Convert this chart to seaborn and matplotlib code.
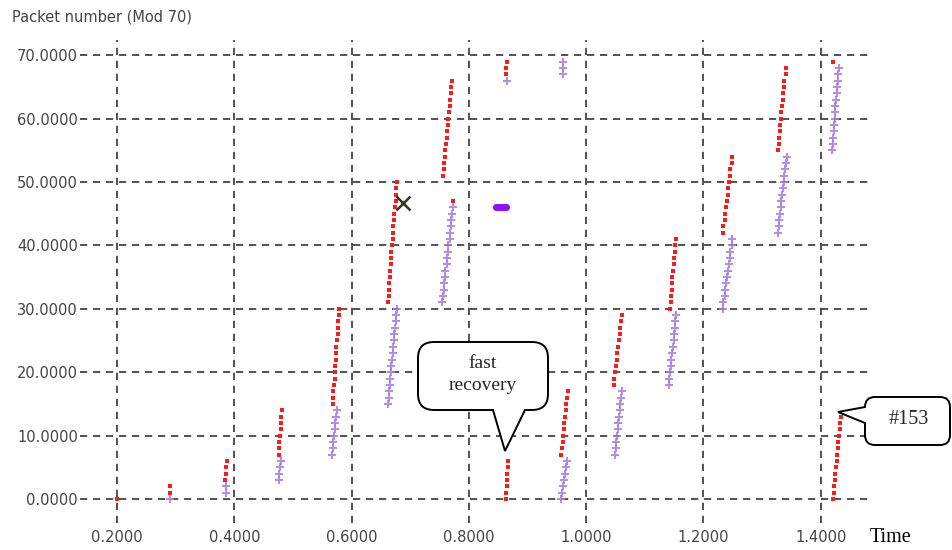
import numpy as np
import pandas as pd
import matplotlib
matplotlib.use("Agg")
import matplotlib.pyplot as plt
import seaborn as sns
from matplotlib.path import Path
from matplotlib.patches import PathPatch
from matplotlib.transforms import Affine2D

# ---------------- data ----------------
# sent packets (red), one list per burst
red_time_bursts = [
    [0.200],
    [0.290, 0.290],
    [0.384, 0.385, 0.386, 0.387],
    [0.476, 0.477, 0.477, 0.478, 0.479, 0.479, 0.480, 0.481],
    [0.568, 0.569, 0.569, 0.570, 0.571, 0.571, 0.572, 0.573, 0.574, 0.574, 0.575, 0.576, 0.576, 0.577, 0.578, 0.579],
    [0.662, 0.663, 0.663, 0.664, 0.665, 0.666, 0.667, 0.667, 0.668, 0.669, 0.670, 0.671, 0.671, 0.672, 0.673, 0.674, 0.675, 0.675, 0.676, 0.677],
    [0.756, 0.757, 0.758, 0.759, 0.760, 0.761, 0.762, 0.763, 0.764, 0.765, 0.766, 0.767, 0.768, 0.769, 0.770, 0.771],
    [0.773],
    [0.864, 0.864, 0.865],
    [0.864, 0.864, 0.865, 0.865, 0.865, 0.866, 0.866],
    [0.957, 0.958, 0.960, 0.961, 0.962, 0.963, 0.964, 0.965, 0.966, 0.968, 0.969],
    [1.047, 1.048, 1.049, 1.051, 1.052, 1.053, 1.054, 1.056, 1.057, 1.058, 1.060, 1.061],
    [1.143, 1.144, 1.145, 1.146, 1.146, 1.147, 1.148, 1.149, 1.150, 1.151, 1.152, 1.153],
    [1.233, 1.234, 1.236, 1.237, 1.238, 1.240, 1.241, 1.242, 1.244, 1.245, 1.246, 1.248, 1.249],
    [1.327, 1.328, 1.329, 1.330, 1.331, 1.332, 1.333, 1.334, 1.335, 1.336, 1.337, 1.338, 1.340, 1.341],
    [1.421],
    [1.421, 1.422, 1.423, 1.424, 1.425, 1.426, 1.427, 1.428, 1.429, 1.430, 1.431, 1.432, 1.433, 1.434],
]
red_pkt_bursts = [
    [0],
    [1, 2],
    [3, 4, 5, 6],
    [7, 8, 9, 10, 11, 12, 13, 14],
    [15, 16, 17, 18, 19, 20, 21, 22, 23, 24, 25, 26, 27, 28, 29, 30],
    [31, 32, 33, 34, 35, 36, 37, 38, 39, 40, 41, 42, 43, 44, 45, 46, 47, 48, 49, 50],
    [51, 52, 53, 54, 55, 56, 57, 58, 59, 60, 61, 62, 63, 64, 65, 66],
    [47],
    [67, 68, 69],
    [0, 1, 2, 3, 4, 5, 6],
    [7, 8, 9, 10, 11, 12, 13, 14, 15, 16, 17],
    [18, 19, 20, 21, 22, 23, 24, 25, 26, 27, 28, 29],
    [30, 31, 32, 33, 34, 35, 36, 37, 38, 39, 40, 41],
    [42, 43, 44, 45, 46, 47, 48, 49, 50, 51, 52, 53, 54],
    [55, 56, 57, 58, 59, 60, 61, 62, 63, 64, 65, 66, 67, 68],
    [69],
    [0, 1, 2, 3, 4, 5, 6, 7, 8, 9, 10, 11, 12, 13],
]

# acknowledgements (purple), one list per burst
ack_time_bursts = [
    [0.290],
    [0.385, 0.386],
    [0.476, 0.477, 0.478, 0.480],
    [0.567, 0.568, 0.569, 0.570, 0.571, 0.572, 0.574, 0.575],
    [0.662, 0.663, 0.664, 0.665, 0.666, 0.667, 0.668, 0.669, 0.670, 0.671, 0.672, 0.673, 0.674, 0.675, 0.676, 0.677],
    [0.754, 0.755, 0.757, 0.758, 0.759, 0.760, 0.762, 0.763, 0.764, 0.765, 0.767, 0.768, 0.769, 0.770, 0.772, 0.773],
    [0.865],
    [0.960, 0.960, 0.961],
    [0.957, 0.959, 0.960, 0.962, 0.964, 0.965, 0.967],
    [1.049, 1.050, 1.051, 1.053, 1.054, 1.055, 1.056, 1.057, 1.058, 1.060, 1.061],
    [1.141, 1.142, 1.143, 1.144, 1.145, 1.146, 1.148, 1.149, 1.150, 1.151, 1.152, 1.153],
    [1.233, 1.234, 1.236, 1.237, 1.239, 1.240, 1.242, 1.243, 1.245, 1.246, 1.248, 1.249],
    [1.327, 1.328, 1.329, 1.331, 1.332, 1.333, 1.334, 1.336, 1.337, 1.338, 1.339, 1.341, 1.342],
    [1.419, 1.420, 1.421, 1.422, 1.423, 1.424, 1.425, 1.425, 1.426, 1.427, 1.428, 1.429, 1.430, 1.431],
]
ack_pkt_bursts = [
    [0],
    [1, 2],
    [3, 4, 5, 6],
    [7, 8, 9, 10, 11, 12, 13, 14],
    [15, 16, 17, 18, 19, 20, 21, 22, 23, 24, 25, 26, 27, 28, 29, 30],
    [31, 32, 33, 34, 35, 36, 37, 38, 39, 40, 41, 42, 43, 44, 45, 46],
    [66],
    [67, 68, 69],
    [0, 1, 2, 3, 4, 5, 6],
    [7, 8, 9, 10, 11, 12, 13, 14, 15, 16, 17],
    [18, 19, 20, 21, 22, 23, 24, 25, 26, 27, 28, 29],
    [30, 31, 32, 33, 34, 35, 36, 37, 38, 39, 40, 41],
    [42, 43, 44, 45, 46, 47, 48, 49, 50, 51, 52, 53, 54],
    [55, 56, 57, 58, 59, 60, 61, 62, 63, 64, 65, 66, 67, 68],
]

# duplicate acks at 46
dup_time = [0.846, 0.849, 0.851, 0.854, 0.856, 0.859, 0.861, 0.864]
dup_pkt = [46, 46, 46, 46, 46, 46, 46, 46]

# drop marker
drop_time = [0.688]
drop_pkt = [46.7]

x_ticks = [0.2, 0.4, 0.6, 0.8, 1.0, 1.2, 1.4]
y_ticks = [0, 10, 20, 30, 40, 50, 60, 70]

# ---------------- figure ----------------
sns.set_style("white")
plt.rcParams["font.family"] = ["DejaVu Sans"]

W, H = 953, 550
fig = plt.figure(figsize=(W / 100, H / 100), dpi=100)
ax = fig.add_axes([80 / W, 27 / H, 790 / W, 483 / H])

red_df = pd.DataFrame({
    "t": [v for b in red_time_bursts for v in b],
    "p": [v for b in red_pkt_bursts for v in b],
})
ack_df = pd.DataFrame({
    "t": [v for b in ack_time_bursts for v in b],
    "p": [v for b in ack_pkt_bursts for v in b],
})
dup_df = pd.DataFrame({"t": dup_time, "p": dup_pkt})

sns.scatterplot(data=ack_df, x="t", y="p", ax=ax, marker="P", s=26,
                color="#a57ae6", linewidth=0, alpha=0.85, zorder=3)
sns.scatterplot(data=red_df, x="t", y="p", ax=ax, marker="s", s=11,
                color="#ff1a1a", linewidth=0, zorder=4)
sns.scatterplot(data=dup_df, x="t", y="p", ax=ax, marker="o", s=26,
                color="#8a14ff", linewidth=0, zorder=4)
ax.plot(drop_time, drop_pkt, marker="o", ms=3, color="#b8b020", ls="none", zorder=5)
ax.plot(drop_time, drop_pkt, marker="x", ms=10, mew=1.8, color="#333333", ls="none", zorder=6)

ax.set_xlim(0.1369, 1.4839)
ax.set_ylim(-3.79, 72.4)
ax.set_xticks(x_ticks)
ax.set_yticks(y_ticks)
ax.set_xticklabels([f"{v:.4f}" for v in x_ticks])
ax.set_yticklabels([f"{v:.4f}" for v in y_ticks])
ax.tick_params(axis="both", length=0, labelsize=10.5, labelcolor="#444444")
ax.tick_params(axis="y", pad=1.5)
ax.tick_params(axis="x", pad=5)
ax.grid(True, color="#444444", linestyle=(0, (4, 3.2)), linewidth=1.3)
ax.set_axisbelow(True)
for s in ax.spines.values():
    s.set_visible(False)
ax.set_xlabel("")
ax.set_ylabel("")
ax.set_facecolor("white")

fig.text(12 / W, 1 - 17 / H, "Packet number (Mod 70)", ha="left", va="center",
         fontsize=10.5, color="#444444")
fig.text(870 / W, 1 - 538 / H, "Time", ha="left", va="center",
         fontsize=14.5, family="Liberation Serif", color="black")

# ---------------- speech bubbles (pixel coords, y down) ----------------
pix = Affine2D().scale(1 / W, -1 / H).translate(0, 1) + fig.transFigure


def bubble(x0, y0, x1, y1, r, bottom_ptr=None, left_ptr=None):
    v, c = [], []
    v += [(x0 + r, y0)]; c += [Path.MOVETO]
    v += [(x1 - r, y0)]; c += [Path.LINETO]
    v += [(x1, y0), (x1, y0 + r)]; c += [Path.CURVE3, Path.CURVE3]
    v += [(x1, y1 - r)]; c += [Path.LINETO]
    v += [(x1, y1), (x1 - r, y1)]; c += [Path.CURVE3, Path.CURVE3]
    if bottom_ptr:
        (bl, br, tip) = bottom_ptr
        v += [(br, y1), tip, (bl, y1)]; c += [Path.LINETO] * 3
    v += [(x0 + r, y1)]; c += [Path.LINETO]
    v += [(x0, y1), (x0, y1 - r)]; c += [Path.CURVE3, Path.CURVE3]
    if left_ptr:
        (lt, lb, tip) = left_ptr
        v += [(x0, lb), tip, (x0, lt)]; c += [Path.LINETO] * 3
    v += [(x0, y0 + r)]; c += [Path.LINETO]
    v += [(x0, y0), (x0 + r, y0)]; c += [Path.CURVE3, Path.CURVE3]
    v += [(x0 + r, y0)]; c += [Path.CLOSEPOLY]
    patch = PathPatch(Path(v, c), transform=pix, facecolor="white",
                      edgecolor="black", linewidth=1.4, zorder=10)
    fig.patches.append(patch)


bubble(418, 342, 548, 410, 16, bottom_ptr=(493, 525, (505, 451)))
bubble(865, 397, 950, 445, 10, left_ptr=(407, 423, (838, 412)))

fig.text(483 / W, 1 - 364 / H, "fast", ha="center", va="center",
         fontsize=14, family="Liberation Serif", zorder=11)
fig.text(483 / W, 1 - 386 / H, "recovery", ha="center", va="center",
         fontsize=14, family="Liberation Serif", zorder=11)
fig.text(909 / W, 1 - 420 / H, "#153", ha="center", va="center",
         fontsize=14.5, family="Liberation Serif", zorder=11)

fig.savefig("out.png", dpi=100, facecolor="white")
